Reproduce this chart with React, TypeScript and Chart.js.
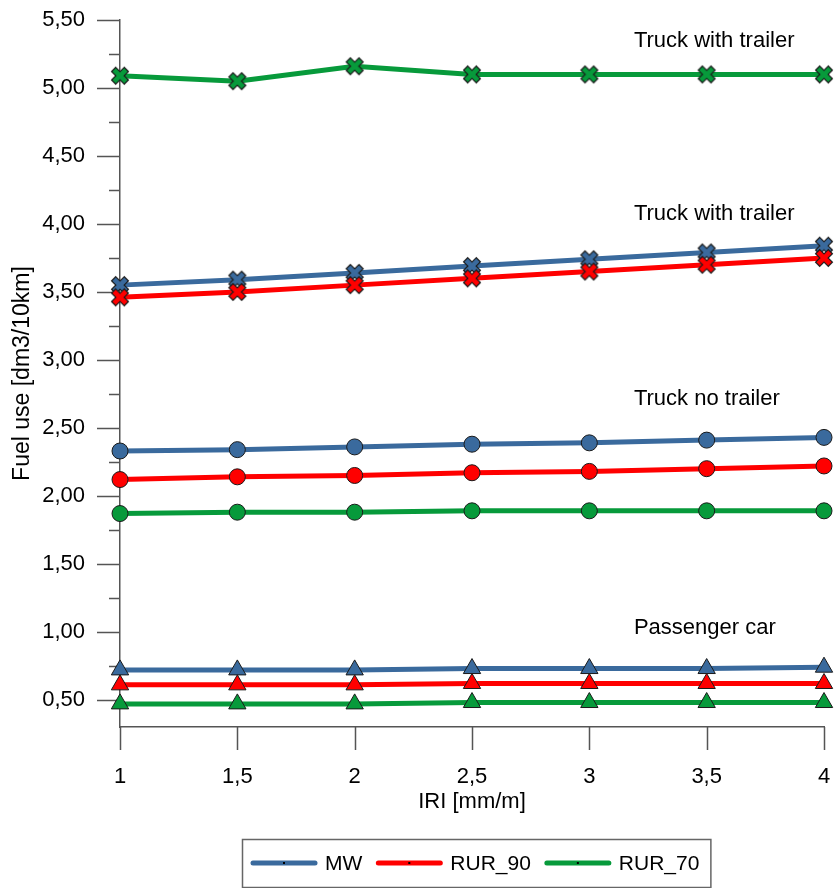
import React, { useEffect, useRef } from 'react';
import { Chart, registerables } from 'chart.js';

Chart.register(...registerables);

// ---- data ----
const iri = [1, 1.5, 2, 2.5, 3, 3.5, 4];
const seriesNames = ['MW', 'RUR_90', 'RUR_70'];
const seriesColors = ['#3a6a9d', '#ff0000', '#079a3b'];

const trailerMW = [3.55, 3.59, 3.64, 3.69, 3.74, 3.79, 3.84];
const trailerRUR90 = [3.46, 3.50, 3.55, 3.60, 3.65, 3.70, 3.75];
const trailerRUR70 = [5.09, 5.05, 5.16, 5.10, 5.10, 5.10, 5.10];

const truckMW = [2.33, 2.34, 2.36, 2.38, 2.39, 2.41, 2.43];
const truckRUR90 = [2.12, 2.14, 2.15, 2.17, 2.18, 2.20, 2.22];
const truckRUR70 = [1.87, 1.88, 1.88, 1.89, 1.89, 1.89, 1.89];

const carMW = [0.72, 0.72, 0.72, 0.73, 0.73, 0.73, 0.74];
const carRUR90 = [0.61, 0.61, 0.61, 0.62, 0.62, 0.62, 0.62];
const carRUR70 = [0.47, 0.47, 0.47, 0.48, 0.48, 0.48, 0.48];

const xTicks = [1, 1.5, 2, 2.5, 3, 3.5, 4];
const yTicks = [0.5, 0.75, 1, 1.25, 1.5, 1.75, 2, 2.25, 2.5, 2.75, 3, 3.25, 3.5, 3.75, 4, 4.25, 4.5, 4.75, 5, 5.25, 5.5];

const groupLabels = ['Truck with trailer', 'Truck with trailer', 'Truck no trailer', 'Passenger car'];
const groupLabelY = [5.345, 4.07, 2.71, 1.03];
const groupLabelX = 3.19;

const FONT = "'Liberation Sans', Arial, sans-serif";

function makeCross(color: string): HTMLCanvasElement {
  const c = document.createElement('canvas');
  c.width = 22;
  c.height = 22;
  const g = c.getContext('2d')!;
  const draw = (a: number, b: number, w: number, col: string) => {
    g.strokeStyle = col;
    g.lineWidth = w;
    g.lineCap = 'butt';
    g.beginPath();
    g.moveTo(a, a);
    g.lineTo(b, b);
    g.moveTo(b, a);
    g.lineTo(a, b);
    g.stroke();
  };
  draw(4.2, 17.8, 7, '#1a1a1a');
  draw(5.1, 16.9, 4.8, color);
  return c;
}

function zeroPadding(s: any) {
  s.paddingTop = 0;
  s.paddingBottom = 0;
  s.paddingLeft = 0;
  s.paddingRight = 0;
}

export default function App() {
  const ref = useRef<HTMLCanvasElement | null>(null);

  useEffect(() => {
    const canvas = ref.current;
    if (!canvas) return;

    const groups = [
      { values: [trailerRUR70, trailerRUR90, trailerMW], style: 'cross' },
      { values: [truckRUR70, truckRUR90, truckMW], style: 'circle' },
      { values: [carRUR70, carRUR90, carMW], style: 'triangle' },
    ];
    const order = [2, 1, 0];

    const datasets: any[] = [];
    groups.forEach((grp) => {
      grp.values.forEach((vals, k) => {
        const si = order[k];
        const color = seriesColors[si];
        const ds: any = {
          label: seriesNames[si],
          data: vals.map((v, i) => ({ x: iri[i], y: v })),
          borderColor: color,
          backgroundColor: color,
          borderWidth: 5,
          tension: 0,
          clip: false,
        };
        if (grp.style === 'cross') {
          ds.pointStyle = makeCross(color);
          ds.pointRadius = 11;
          ds.pointBorderWidth = 0;
        } else if (grp.style === 'circle') {
          ds.pointStyle = 'circle';
          ds.pointRadius = 8;
          ds.pointBackgroundColor = color;
          ds.pointBorderColor = '#1a1a1a';
          ds.pointBorderWidth = 1;
        } else {
          ds.pointStyle = 'triangle';
          ds.pointRadius = 10;
          ds.pointBackgroundColor = color;
          ds.pointBorderColor = '#1a1a1a';
          ds.pointBorderWidth = 1;
        }
        datasets.push(ds);
      });
    });

    const tickPlugin = {
      id: 'customTicks',
      beforeDatasetsDraw(chart: any) {
        const { ctx, scales } = chart;
        const xs = scales.x;
        const ys = scales.y;
        const axX = chart.chartArea.left;
        const axY = chart.chartArea.bottom;
        ctx.save();
        ctx.strokeStyle = '#555';
        ctx.lineWidth = 1.5;
        ctx.beginPath();
        yTicks.forEach((v) => {
          const py = Math.round(ys.getPixelForValue(v)) + 0.5;
          const major = Math.abs(v * 2 - Math.round(v * 2)) < 1e-6;
          ctx.moveTo(axX - (major ? 23 : 11), py);
          ctx.lineTo(axX, py);
        });
        xTicks.forEach((v) => {
          const px = Math.round(xs.getPixelForValue(v)) + 0.5;
          ctx.moveTo(px, axY);
          ctx.lineTo(px, axY + 23);
        });
        ctx.stroke();
        ctx.restore();
      },
      afterDraw(chart: any) {
        const { ctx, scales } = chart;
        ctx.save();
        ctx.fillStyle = '#000';
        ctx.font = `22px ${FONT}`;
        ctx.textAlign = 'left';
        ctx.textBaseline = 'middle';
        groupLabels.forEach((t, i) => {
          ctx.fillText(t, scales.x.getPixelForValue(groupLabelX), scales.y.getPixelForValue(groupLabelY[i]));
        });
        // legend
        const boxL = 242;
        const boxT = 839;
        const boxH = 48;
        const cy = boxT + boxH / 2;
        ctx.font = `21px ${FONT}`;
        let x = 253;
        const lineLen = 62;
        seriesNames.forEach((name, i) => {
          ctx.strokeStyle = seriesColors[i];
          ctx.lineWidth = 5;
          ctx.lineCap = 'round';
          ctx.beginPath();
          ctx.moveTo(x, cy);
          ctx.lineTo(x + lineLen, cy);
          ctx.stroke();
          ctx.fillStyle = '#000';
          ctx.fillRect(x + lineLen / 2 - 1, cy - 1, 2, 2);
          ctx.fillText(name, x + lineLen + 10, cy + 1);
          const w = ctx.measureText(name).width;
          x = x + lineLen + 10 + w + 16;
        });
        const boxR = x - 16 + 11;
        ctx.strokeStyle = '#666';
        ctx.lineWidth = 1.5;
        ctx.lineCap = 'butt';
        ctx.strokeRect(boxL + 0.5, boxT + 0.5, boxR - boxL, boxH);
        ctx.restore();
      },
    };

    const chart = new Chart(canvas, {
      type: 'line',
      data: { datasets },
      options: {
        animation: false,
        responsive: false,
        devicePixelRatio: 1,
        layout: { padding: { left: 0, right: 11, top: 20, bottom: 61 } },
        plugins: { legend: { display: false }, tooltip: { enabled: false } },
        scales: {
          x: {
            type: 'linear',
            min: 1,
            max: 4,
            afterBuildTicks: (s: any) => {
              s.ticks = xTicks.map((v) => ({ value: v }));
            },
            afterFit: (s: any) => {
              s.height = 100;
              zeroPadding(s);
            },
            grid: { display: false, drawTicks: false },
            border: { display: true, color: '#555', width: 1.5 },
            ticks: {
              padding: 37,
              color: '#000',
              autoSkip: false,
              maxRotation: 0,
              font: { family: FONT, size: 22 },
              callback: (v: any) => String(v).replace('.', ','),
            },
            title: {
              display: true,
              text: 'IRI [mm/m]',
              color: '#000',
              font: { family: FONT, size: 22 },
              padding: { top: 0, bottom: 12 },
            },
          },
          y: {
            type: 'linear',
            min: 0.3,
            max: 5.5,
            afterBuildTicks: (s: any) => {
              s.ticks = yTicks.map((v) => ({ value: v }));
            },
            afterFit: (s: any) => {
              s.width = 120;
              zeroPadding(s);
            },
            grid: { display: false, drawTicks: false },
            border: { display: true, color: '#555', width: 1.5 },
            ticks: {
              padding: 35,
              color: '#000',
              autoSkip: false,
              font: { family: FONT, size: 22 },
              callback: (v: any) => {
                const n = Number(v);
                const major = Math.abs(n * 2 - Math.round(n * 2)) < 1e-6;
                return major ? n.toFixed(2).replace('.', ',') : '';
              },
            },
            title: {
              display: true,
              text: 'Fuel use [dm3/10km]',
              color: '#000',
              font: { family: FONT, size: 23 },
              padding: { top: 9, bottom: 0 },
            },
          },
        },
      },
      plugins: [tickPlugin],
    } as any);

    return () => chart.destroy();
  }, []);

  return (
    <div style={{ position: 'absolute', left: 0, top: 0, width: 835, height: 888, background: '#fff' }}>
      <canvas ref={ref} width={835} height={888} style={{ display: 'block' }} />
    </div>
  );
}
